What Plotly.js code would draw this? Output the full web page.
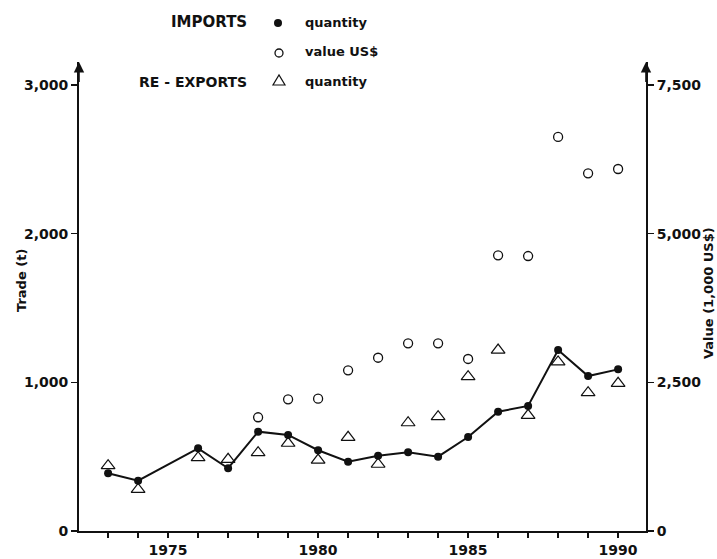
<!DOCTYPE html>
<html>
<head>
<meta charset="utf-8">
<script src="https://cdn.plot.ly/plotly-3.0.1.min.js"></script>
<style>html,body{margin:0;padding:0;background:#fff;}#chart{width:717px;height:559px;}</style>
</head>
<body>
<div id="chart"></div>
<script>
// Imports, quantity (t) — 1975 not reported
const impQtyYears = [1973, 1974, 1976, 1977, 1978, 1979, 1980, 1981, 1982, 1983, 1984, 1985, 1986, 1987, 1988, 1989, 1990];
const impQty      = [388, 338, 556, 422, 668, 646, 543, 466, 506, 529, 500, 632, 802, 841, 1217, 1042, 1087];

// Imports, value (1,000 US$)
const impValYears = [1978, 1979, 1980, 1981, 1982, 1983, 1984, 1985, 1986, 1987, 1988, 1989, 1990];
const impVal      = [1912, 2214, 2224, 2702, 2913, 3156, 3156, 2892, 4635, 4623, 6625, 6013, 6086];

// Re-exports, quantity (t)
const reExpYears = [1973, 1974, 1976, 1977, 1978, 1979, 1980, 1981, 1982, 1983, 1984, 1985, 1986, 1987, 1988, 1989, 1990];
const reExpQty   = [439, 280, 493, 482, 527, 590, 477, 630, 449, 728, 769, 1038, 1217, 778, 1137, 930, 993];

// Axis ticks
const xTickYears  = [1973,1974,1975,1976,1977,1978,1979,1980,1981,1982,1983,1984,1985,1986,1987,1988,1989,1990];
const xTickLabels = ['','','1975','','','','','1980','','','','','1985','','','','','1990'];
const yLeftVals   = [0, 1000, 2000, 3000];
const yLeftLabels = ['0', '1,000', '2,000', '3,000'];
const yRightVals  = [0, 2500, 5000, 7500];
const yRightLabels= ['0', '2,500', '5,000', '7,500'];

const FONT = 'DejaVu Sans, Arial, sans-serif';
const INK = '#111';

const traces = [
  {
    x: impQtyYears, y: impQty, type: 'scatter', mode: 'lines+markers',
    line: {color: INK, width: 2},
    marker: {symbol: 'circle', size: 8, color: INK},
    yaxis: 'y', showlegend: false, hoverinfo: 'x+y'
  },
  {
    x: reExpYears, y: reExpQty, type: 'scatter', mode: 'markers',
    marker: {symbol: 'triangle-up-open', size: 12, color: INK, line: {width: 1.2, color: INK}},
    yaxis: 'y', showlegend: false
  },
  {
    x: impValYears, y: impVal, type: 'scatter', mode: 'markers',
    marker: {symbol: 'circle-open', size: 9, color: INK, line: {width: 1.3, color: INK}},
    yaxis: 'y2', showlegend: false
  }
];

function px2x(px) { return (px - 79) / 567; }
function px2y(py) { return (531 - py) / 469; }

const legFont = {family: FONT, size: 15, color: INK, weight: 'bold'};
const legFontSmall = {family: FONT, size: 13, color: INK, weight: 'bold'};
const titleFont = {family: FONT, size: 13, color: INK, weight: 'bold'};

const annotations = [
  {text: 'IMPORTS', x: px2x(249), y: px2y(22), xanchor: 'right', yanchor: 'middle', font: legFont},
  {text: 'quantity', x: px2x(303), y: px2y(22), xanchor: 'left', yanchor: 'middle', font: legFontSmall},
  {text: 'value US$', x: px2x(303), y: px2y(52), xanchor: 'left', yanchor: 'middle', font: legFontSmall},
  {text: 'RE - EXPORTS', x: px2x(249), y: px2y(82), xanchor: 'right', yanchor: 'middle',
   font: {family: FONT, size: 14, color: INK, weight: 'bold'}},
  {text: 'quantity', x: px2x(303), y: px2y(82), xanchor: 'left', yanchor: 'middle', font: legFontSmall},
  {text: 'Trade (t)', x: px2x(21), y: px2y(281), xanchor: 'center', yanchor: 'middle', textangle: -90, font: titleFont},
  {text: 'Value (1,000 US$)', x: px2x(708), y: px2y(293), xanchor: 'center', yanchor: 'middle', textangle: -90, font: titleFont},
  // axis arrows
  {text: ' ', x: 0, y: 1, showarrow: true, ax: 0, ay: 30,
   arrowhead: 2, arrowsize: 1.3, arrowwidth: 1.6, arrowcolor: INK, standoff: 0},
  {text: ' ', x: 1, y: 1, showarrow: true, ax: 0, ay: 30,
   arrowhead: 2, arrowsize: 1.3, arrowwidth: 1.6, arrowcolor: INK, standoff: 0}
].map(a => Object.assign({xref: 'paper', yref: 'paper', showarrow: false}, a));

const shapes = [
  {type: 'circle', xref: 'paper', yref: 'paper', xsizemode: 'pixel', ysizemode: 'pixel',
   xanchor: px2x(278), yanchor: px2y(23), x0: -4, x1: 4, y0: -4, y1: 4,
   fillcolor: INK, line: {width: 0}},
  {type: 'circle', xref: 'paper', yref: 'paper', xsizemode: 'pixel', ysizemode: 'pixel',
   xanchor: px2x(279), yanchor: px2y(53), x0: -4, x1: 4, y0: -4, y1: 4,
   fillcolor: 'rgba(0,0,0,0)', line: {width: 1.3, color: INK}},
  {type: 'path', xref: 'paper', yref: 'paper', xsizemode: 'pixel', ysizemode: 'pixel',
   xanchor: px2x(279), yanchor: px2y(81),
   path: 'M-6,-4 L6,-4 L0,6 Z',
   fillcolor: 'rgba(0,0,0,0)', line: {width: 1.2, color: INK}}
];

const axisCommon = {
  showgrid: false, zeroline: false, showline: true, linecolor: INK, linewidth: 2,
  ticks: 'outside', ticklen: 6, tickwidth: 1.5, tickcolor: INK,
  tickfont: {family: FONT, size: 14, color: INK, weight: 'bold'},
  fixedrange: true
};

const layout = {
  width: 717, height: 559,
  margin: {l: 79, r: 71, t: 62, b: 28, pad: 0},
  paper_bgcolor: '#fff', plot_bgcolor: '#fff',
  showlegend: false,
  xaxis: Object.assign({}, axisCommon, {
    range: [1972.03, 1990.93], tickmode: 'array', tickvals: xTickYears, ticktext: xTickLabels,
    ticklen: 5
  }),
  yaxis: Object.assign({}, axisCommon, {
    range: [0, 3154], tickmode: 'array', tickvals: yLeftVals, ticktext: yLeftLabels
  }),
  yaxis2: Object.assign({}, axisCommon, {
    range: [0, 7885], tickmode: 'array', tickvals: yRightVals, ticktext: yRightLabels,
    overlaying: 'y', side: 'right'
  }),
  annotations: annotations,
  shapes: shapes
};

Plotly.newPlot('chart', traces, layout, {displayModeBar: false, staticPlot: true});
</script>
</body>
</html>
